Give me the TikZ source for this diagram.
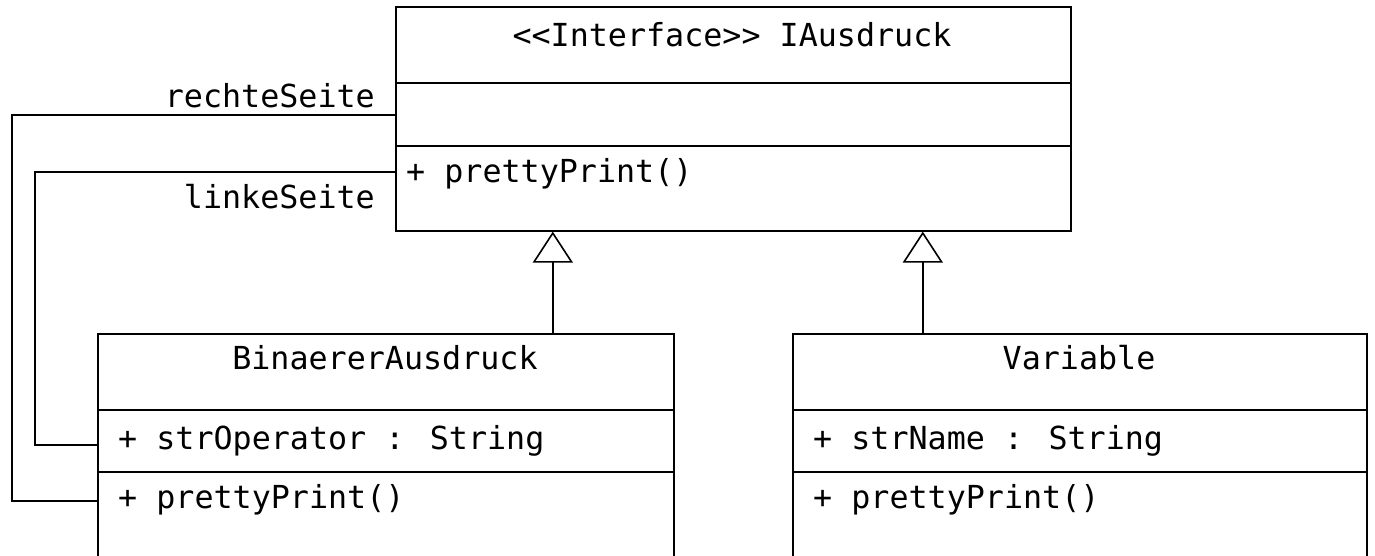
\documentclass[tikz,border=0pt]{standalone}
\usepackage{fontspec}
\newfontfamily\umlfont{DejaVu Sans Mono}
\usetikzlibrary{arrows.meta}
\tikzset{
  umlbox/.style={draw, line width=1.6pt, rectangle, inner sep=0pt, anchor=north west},
  umltext/.style={font=\umlfont\fontsize{31.7}{36}\selectfont, inner sep=0pt},
  conn/.style={draw, line width=1.6pt},
  inherit/.style={draw, line width=1.6pt, -{Triangle[open, width=40pt, length=31pt]}},
}
\begin{document}
\begin{tikzpicture}[x=1pt, y=-1pt]
\useasboundingbox (0,0) rectangle (1375,555);
\clip (0,0) rectangle (1375,555);
\fill[white] (0,0) rectangle (1375,555);
% boxes
\node[umlbox, minimum width=675pt, minimum height=224pt] (iface) at (395,6) {};
\node[umlbox, minimum width=576pt, minimum height=250pt] (bin) at (97,333) {};
\node[umlbox, minimum width=574pt, minimum height=250pt] (var) at (792,333) {};
% separators
\draw[conn] ([yshift=-77pt]iface.north west) -- ([yshift=-77pt]iface.north east);
\draw[conn] ([yshift=-140pt]iface.north west) -- ([yshift=-140pt]iface.north east);
\draw[conn] ([yshift=-77pt]bin.north west) -- ([yshift=-77pt]bin.north east);
\draw[conn] ([yshift=-139pt]bin.north west) -- ([yshift=-139pt]bin.north east);
\draw[conn] ([yshift=-77pt]var.north west) -- ([yshift=-77pt]var.north east);
\draw[conn] ([yshift=-139pt]var.north west) -- ([yshift=-139pt]var.north east);
% texts
\node[umltext, anchor=base] (ifaceT) at (732,46) {<<Interface>> IAusdruck};
\node[umltext, anchor=base west] (ifaceM) at (406,182) {+ prettyPrint()};
\node[umltext, anchor=base] (binT) at (385,369) {BinaererAusdruck};
\node[umltext, anchor=base west] (binA) at (118,449) {+ strOperator : String};
\node[umltext, anchor=base west] (binM) at (118,508) {+ prettyPrint()};
\node[umltext, anchor=base] (varT) at (1079,369) {Variable};
\node[umltext, anchor=base west] (varA) at (813,449) {+ strName : String};
\node[umltext, anchor=base west] (varM) at (813,508) {+ prettyPrint()};
\node[umltext, anchor=base east] (lblR) at (375,107) {rechteSeite};
\node[umltext, anchor=base east] (lblL) at (375,208) {linkeSeite};
% associations
\draw[conn] ([yshift=-109pt]iface.north west) -- ++(-383,0) |- ([yshift=-168pt]bin.north west);
\draw[conn] ([yshift=-166pt]iface.north west) -- ++(-360,0) |- ([yshift=-112pt]bin.north west);
% inheritance
\draw[inherit] ([xshift=167pt]bin.north) -- ([xshift=167pt]bin.north |- iface.south);
\draw[inherit] ([xshift=-157pt]var.north) -- ([xshift=-157pt]var.north |- iface.south);
\end{tikzpicture}
\end{document}
